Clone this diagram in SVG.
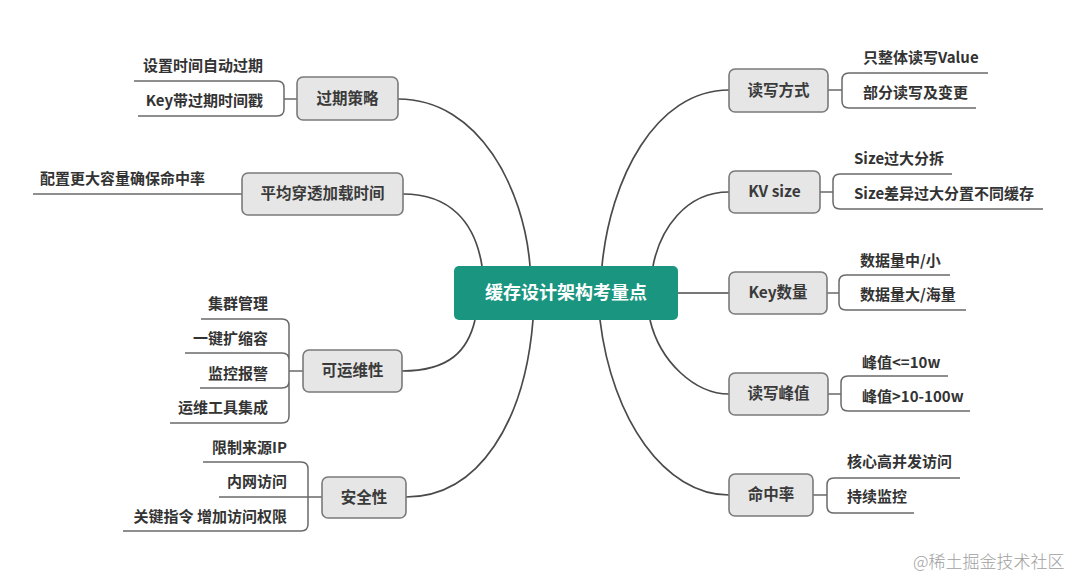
<svg xmlns="http://www.w3.org/2000/svg" width="1080" height="581" viewBox="0 0 1080 581">
<style>
.bg{fill:#ffffff}
.box{fill:#e6e6e6;stroke:#7a7a7a;stroke-width:1.6}
.center{fill:#1a9580;stroke:none}
.t{font-family:"Noto Sans CJK SC","Liberation Sans",sans-serif;font-size:15px;font-weight:bold;fill:#333333}
.bt{font-family:"Noto Sans CJK SC","Liberation Sans",sans-serif;font-size:15.5px;font-weight:bold;fill:#3a3a3a;text-anchor:middle}
.ct{font-family:"Noto Sans CJK SC","Liberation Sans",sans-serif;font-size:18px;font-weight:bold;fill:#ffffff;text-anchor:middle}
.end{text-anchor:end}
.ln{fill:none;stroke:#4a4a4a;stroke-width:1.7}
.br{fill:none;stroke:#6a6a6a;stroke-width:1.5}
.wm{font-family:"Noto Sans CJK SC","Liberation Serif",serif;font-size:17px;font-weight:300;fill:#a0a0a0}
</style>
<rect class="bg" x="0" y="0" width="1080" height="581"/>

<g id="connectors">
  <path class="ln" d="M398,99 C480,99 524,190 530,266"/>
  <path class="ln" d="M403,194 C450,194 475,222 482,266"/>
  <path class="ln" d="M402,371 C450,371 468,350 475,320"/>
  <path class="ln" d="M406,497 C480,497 525,420 533,320"/>
  <path class="ln" d="M729,90 C655,90 610,180 602,266"/>
  <path class="ln" d="M729,192 C685,192 660,230 653,266"/>
  <path class="ln" d="M678,293 L729,293"/>
  <path class="ln" d="M650,320 C660,362 695,394 729,394"/>
  <path class="ln" d="M600,320 C612,420 665,495 729,495"/>
  <!-- left brackets -->
  <path class="br" d="M134,81 L277,81 Q284,81 284,88 L284,109 Q284,116 277,116 L138,116 M284,99 L297,99"/>
  <path class="br" d="M33,194 L242,194"/>
  <path class="br" d="M201,319 L282,319 Q289,319 289,326 L289,416 Q289,423 282,423 L170,423 M185,353 L282,353 Q289,353 289,360 M200,388 L282,388 Q289,388 289,381 M289,371 L303,371"/>
  <path class="br" d="M203,462 L301,462 Q308,462 308,469 L308,524 Q308,531 301,531 L123,531 M219,497 L322,497"/>
  <!-- right brackets -->
  <path class="br" d="M828,90 L842,90 M988,73 L849,73 Q842,73 842,80 L842,101 Q842,108 849,108 L976,108"/>
  <path class="br" d="M820,192 L833,192 M952,174 L840,174 Q833,174 833,181 L833,202 Q833,209 840,209 L1043,209"/>
  <path class="br" d="M827,293 L839,293 M950,275 L846,275 Q839,275 839,282 L839,303 Q839,310 846,310 L966,310"/>
  <path class="br" d="M828,394 L841,394 M948,376 L848,376 Q841,376 841,383 L841,404 Q841,411 848,411 L970,411"/>
  <path class="br" d="M813,495 L827,495 M960,478 L834,478 Q827,478 827,485 L827,506 Q827,513 834,513 L914,513"/>
</g>

<g id="center">
  <rect class="center" x="454" y="266" width="224" height="54" rx="5"/>
  <text class="ct" x="566" y="299">缓存设计架构考量点</text>
</g>

<g id="n-guoqi">
  <rect class="box" x="297" y="77" width="101" height="43" rx="6"/>
  <text class="bt" x="347.5" y="104">过期策略</text>
  <text class="t end" x="263" y="71">设置时间自动过期</text>
  <text class="t end" x="263" y="106">Key带过期时间戳</text>
</g>

<g id="n-pingjun">
  <rect class="box" x="242" y="173" width="161" height="42" rx="6"/>
  <text class="bt" x="322.5" y="199">平均穿透加载时间</text>
  <text class="t" x="40" y="184">配置更大容量确保命中率</text>
</g>

<g id="n-yunwei">
  <rect class="box" x="303" y="350" width="99" height="42" rx="6"/>
  <text class="bt" x="352.5" y="376">可运维性</text>
  <text class="t end" x="268" y="309">集群管理</text>
  <text class="t end" x="268" y="344">一键扩缩容</text>
  <text class="t end" x="268" y="379">监控报警</text>
  <text class="t end" x="268" y="413">运维工具集成</text>
</g>

<g id="n-anquan">
  <rect class="box" x="322" y="477" width="84" height="41" rx="6"/>
  <text class="bt" x="364" y="502.5">安全性</text>
  <text class="t end" x="287" y="453">限制来源IP</text>
  <text class="t end" x="287" y="487">内网访问</text>
  <text class="t end" x="287" y="522">关键指令 增加访问权限</text>
</g>

<g id="n-duxie">
  <rect class="box" x="729" y="69" width="99" height="43" rx="6"/>
  <text class="bt" x="778.5" y="96">读写方式</text>
  <text class="t" x="863" y="63">只整体读写Value</text>
  <text class="t" x="863" y="98">部分读写及变更</text>
</g>

<g id="n-kvsize">
  <rect class="box" x="729" y="171" width="91" height="42" rx="6"/>
  <text class="bt" x="774.5" y="197">KV size</text>
  <text class="t" x="854" y="164">Size过大分拆</text>
  <text class="t" x="854" y="199">Size差异过大分置不同缓存</text>
</g>

<g id="n-keyshu">
  <rect class="box" x="729" y="272" width="98" height="42" rx="6"/>
  <text class="bt" x="778" y="298">Key数量</text>
  <text class="t" x="860" y="266">数据量中/小</text>
  <text class="t" x="860" y="300">数据量大/海量</text>
</g>

<g id="n-fengzhi">
  <rect class="box" x="729" y="373" width="99" height="42" rx="6"/>
  <text class="bt" x="778.5" y="399">读写峰值</text>
  <text class="t" x="862" y="368">峰值&lt;=10w</text>
  <text class="t" x="862" y="402">峰值&gt;10-100w</text>
</g>

<g id="n-mingzhong">
  <rect class="box" x="729" y="474" width="84" height="42" rx="6"/>
  <text class="bt" x="771" y="500">命中率</text>
  <text class="t" x="847" y="467">核心高并发访问</text>
  <text class="t" x="847" y="502">持续监控</text>
</g>

<text class="wm" x="913" y="568">@稀土掘金技术社区</text>
</svg>
